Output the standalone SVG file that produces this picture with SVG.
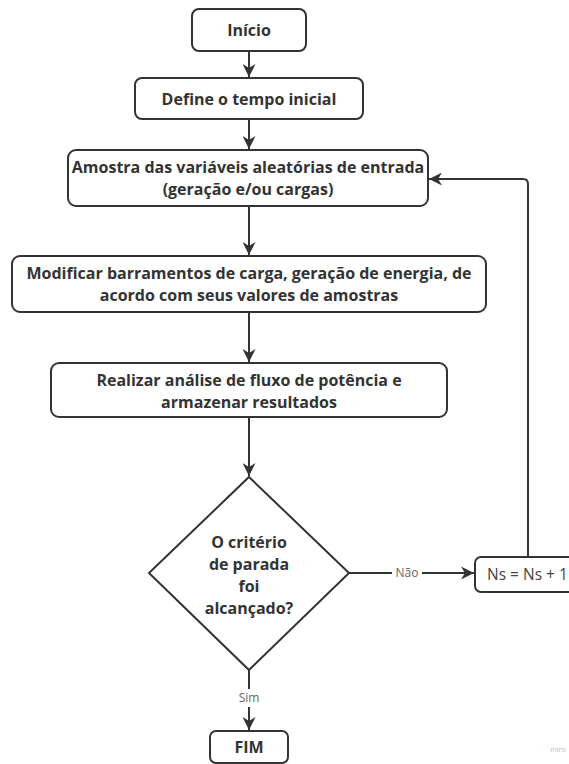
<svg xmlns="http://www.w3.org/2000/svg" width="569" height="764" viewBox="0 0 569 764">
<style>
.box{fill:#fff;stroke:#333;stroke-width:2}
.t{font-family:"Open Sans","Liberation Sans",sans-serif;font-size:16px;font-weight:bold;fill:#333;text-anchor:middle}
.n{font-family:"Open Sans","Liberation Sans",sans-serif;font-size:15.5px;fill:#444}
.lbl{font-family:"Open Sans","Liberation Sans",sans-serif;font-size:12px;fill:#666;text-anchor:middle}
.c{fill:none;stroke:#333;stroke-width:2}
</style>
<defs>
<marker id="ah" viewBox="0 0 10 10" refX="10" refY="5" markerWidth="6.5" markerHeight="6.5" orient="auto" markerUnits="strokeWidth">
<path d="M0,0 L10,5 L0,10 L3,5 Z" fill="#333"/>
</marker>
</defs>
<rect width="569" height="764" fill="#fff"/>
<g id="connectors">
<line class="c" x1="249" y1="51" x2="249" y2="77" marker-end="url(#ah)"/>
<line class="c" x1="249" y1="119" x2="249" y2="149" marker-end="url(#ah)"/>
<line class="c" x1="249" y1="206" x2="249" y2="255" marker-end="url(#ah)"/>
<line class="c" x1="249" y1="312" x2="249" y2="362" marker-end="url(#ah)"/>
<line class="c" x1="249" y1="417" x2="249" y2="476" marker-end="url(#ah)"/>
<path class="c" d="M349,573 H392 M422,573 H474" marker-end="url(#ah)"/>
<text class="lbl" x="407" y="577">Não</text>
<path class="c" d="M528,557 V184 Q528,179 523,179 H429" marker-end="url(#ah)"/>
<path class="c" d="M249,670 V689 M249,707 V730" marker-end="url(#ah)"/>
<text class="lbl" x="249" y="702">Sim</text>
</g>
<g id="inicio">
<rect class="box" x="192" y="9" width="114" height="42" rx="7"/>
<text class="t" x="249" y="36">Início</text>
</g>
<g id="define">
<rect class="box" x="135" y="78" width="228" height="41" rx="7"/>
<text class="t" x="249" y="105">Define o tempo inicial</text>
</g>
<g id="amostra">
<rect class="box" x="68" y="150" width="360" height="56" rx="8"/>
<text class="t" x="248" y="173">Amostra das variáveis aleatórias de entrada</text>
<text class="t" x="248" y="195">(geração e/ou cargas)</text>
</g>
<g id="modificar">
<rect class="box" x="12" y="256" width="474" height="56" rx="8"/>
<text class="t" x="249" y="279">Modificar barramentos de carga, geração de energia, de</text>
<text class="t" x="249" y="301">acordo com seus valores de amostras</text>
</g>
<g id="realizar">
<rect class="box" x="51" y="363" width="396" height="54" rx="8"/>
<text class="t" x="249" y="386">Realizar análise de fluxo de potência e</text>
<text class="t" x="249" y="408">armazenar resultados</text>
</g>
<g id="decisao">
<polygon class="box" points="249,477 349,573 249,670 149,573"/>
<text class="t" x="249" y="548">O critério</text>
<text class="t" x="249" y="570">de parada</text>
<text class="t" x="249" y="592">foi</text>
<text class="t" x="249" y="614">alcançado?</text>
</g>
<g id="ns">
<rect class="box" x="475" y="557" width="110" height="35" rx="6"/>
<text class="n" x="487" y="580">Ns = Ns + 1</text>
</g>
<g id="fim">
<rect class="box" x="210" y="731" width="78" height="32" rx="6"/>
<text class="t" x="249" y="753">FIM</text>
</g>
<text x="558" y="752" font-family="'Open Sans','Liberation Sans',sans-serif" font-size="7" fill="#bbb" text-anchor="middle">miro</text>
</svg>
